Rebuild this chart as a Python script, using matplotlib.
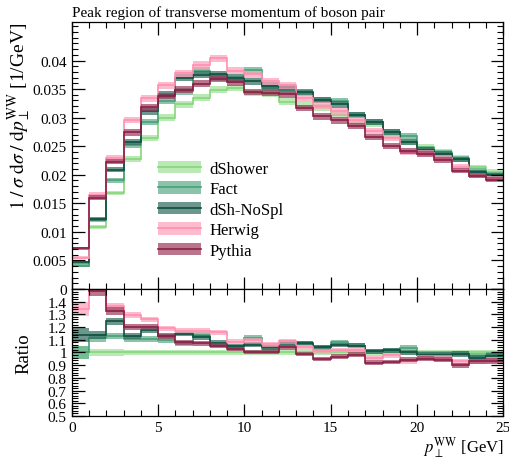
import numpy as np
import matplotlib
matplotlib.use("Agg")
import matplotlib.pyplot as plt
from matplotlib.ticker import MultipleLocator, FixedLocator
from matplotlib.patches import Patch
from matplotlib.lines import Line2D
from matplotlib.legend_handler import HandlerTuple

plt.rcParams['font.family'] = ['Liberation Serif', 'DejaVu Serif']
plt.rcParams['mathtext.fontset'] = 'stix'

edges = np.arange(0, 26, 1)

dshower = [0.0041, 0.0108, 0.0168, 0.0228, 0.0265, 0.0300, 0.0323, 0.0335, 0.0349, 0.0352,
           0.0343, 0.0342, 0.0328, 0.0321, 0.0318, 0.0305, 0.0290, 0.0289, 0.0270, 0.0257,
           0.0248, 0.0240, 0.0230, 0.0213, 0.0205]
fact = [0.0041, 0.0120, 0.0190, 0.0252, 0.0293, 0.0329, 0.0346, 0.0382, 0.0370, 0.0366,
        0.0383, 0.0352, 0.0348, 0.0343, 0.0331, 0.0329, 0.0305, 0.0292, 0.0275, 0.0267,
        0.0246, 0.0238, 0.0228, 0.0207, 0.0201]
dsh_nospl = [0.00467, 0.0123, 0.0209, 0.0258, 0.0311, 0.0340, 0.0370, 0.0375, 0.0376, 0.0370,
             0.0364, 0.0356, 0.0353, 0.0345, 0.0331, 0.0323, 0.0305, 0.0292, 0.0275, 0.0257,
             0.0244, 0.0236, 0.0227, 0.0204, 0.0199]
herwig = [0.0055, 0.0165, 0.0229, 0.0296, 0.0334, 0.0357, 0.0378, 0.0392, 0.0404, 0.0382,
          0.0376, 0.0364, 0.0357, 0.0334, 0.0321, 0.0311, 0.0296, 0.0277, 0.0264, 0.0239,
          0.0238, 0.0230, 0.0214, 0.0198, 0.0193]
pythia = [0.0071, 0.0160, 0.0223, 0.0274, 0.0318, 0.0338, 0.0349, 0.0359, 0.0368, 0.0362,
          0.0345, 0.0344, 0.0341, 0.0317, 0.0302, 0.0295, 0.0285, 0.0266, 0.0250, 0.0242,
          0.0236, 0.0226, 0.0207, 0.0198, 0.0191]

labels = ['dShower', 'Fact', 'dSh-NoSpl', 'Herwig', 'Pythia']
series = [dshower, fact, dsh_nospl, herwig, pythia]
line_colors = ['#86d67a', '#4a9f79', '#0f4f40', '#ff8fae', '#8a1f45']
band_colors = ['#9ee096', '#5aab86', '#2f6b5d', '#ff9fba', '#9a3a5c']
band_alpha = 0.7
stat_coeff = 0.0032

fig = plt.figure(figsize=(5.1, 4.6), dpi=100)
ax = fig.add_axes([0.1406, 0.3696, 0.8465, 0.5811])
axr = fig.add_axes([0.1406, 0.0935, 0.8465, 0.2761])

ref = np.array(dshower)
handles = []
for vals, lab, lc, bc in zip(series, labels, line_colors, band_colors):
    v = np.array(vals)
    err = stat_coeff * np.sqrt(v)
    ax.stairs(v + err, edges, baseline=v - err, fill=True, color=bc, alpha=band_alpha, lw=0)
    ax.stairs(v, edges, baseline=None, color=lc, lw=1.2)
    r = v / ref
    rerr = err / ref
    axr.stairs(r + rerr, edges, baseline=r - rerr, fill=True, color=bc, alpha=band_alpha, lw=0)
    axr.stairs(r, edges, baseline=None, color=lc, lw=1.2)
    handles.append((Patch(facecolor=bc, alpha=band_alpha, edgecolor='none'),
                    Line2D([], [], color=lc, lw=1.2)))

ax.set_xlim(0, 25)
ax.set_ylim(0, 0.0468)
axr.set_xlim(0, 25)
axr.set_ylim(0.5, 1.5)

for a in (ax, axr):
    a.xaxis.set_major_locator(MultipleLocator(5))
    a.xaxis.set_minor_locator(MultipleLocator(1))
    a.tick_params(which='both', direction='in', top=True, right=True, labelsize=11)
    a.tick_params(which='major', length=9, width=0.9)
    a.tick_params(which='minor', length=4.5, width=0.8)
    for s in a.spines.values():
        s.set_linewidth(0.9)

ax.yaxis.set_minor_locator(MultipleLocator(0.001))
ax.set_yticks([0, 0.005, 0.01, 0.015, 0.02, 0.025, 0.03, 0.035, 0.04])
ax.set_yticklabels(['0', '0.005', '0.01', '0.015', '0.02', '0.025', '0.03', '0.035', '0.04'])
ax.tick_params(labelbottom=False)

rt = [0.5, 0.6, 0.7, 0.8, 0.9, 1.0, 1.1, 1.2, 1.3, 1.4, 1.5]
axr.yaxis.set_major_locator(FixedLocator(rt))
axr.set_yticklabels(['0.5', '0.6', '0.7', '0.8', '0.9', '1', '1.1', '1.2', '1.3', '1.4', ''])
axr.yaxis.set_minor_locator(MultipleLocator(0.02))
axr.set_xticks([0, 5, 10, 15, 20, 25])
axr.set_xticklabels(['0', '5', '10', '15', '20', '25'])

ax.set_ylabel(r'$1\;/\;\sigma\;\mathrm{d}\sigma\;/\;\mathrm{d}p_{\bot}^{\mathrm{WW}}$ [1/GeV]',
              fontsize=14, ha='right', y=1.0)
ax.yaxis.set_label_coords(-0.09, 1.0)
axr.set_ylabel('Ratio', fontsize=13.5)
axr.yaxis.set_label_coords(-0.09, 0.5)
axr.set_xlabel(r'$p_{\bot}^{\mathrm{WW}}$ [GeV]', fontsize=12, ha='right', x=1.0, labelpad=0)

fig.text(0.1406, 0.972, 'Peak region of transverse momentum of boson pair',
         fontsize=11, ha='left', va='center')

ax.legend(handles, labels, loc='upper left', bbox_to_anchor=(0.2, 0.48), frameon=False,
          fontsize=12, handlelength=2.6, handleheight=0.8, labelspacing=0.26,
          handletextpad=0.5, borderpad=0, borderaxespad=0,
          handler_map={tuple: HandlerTuple(ndivide=1)})

fig.savefig('out.png', dpi=100)
